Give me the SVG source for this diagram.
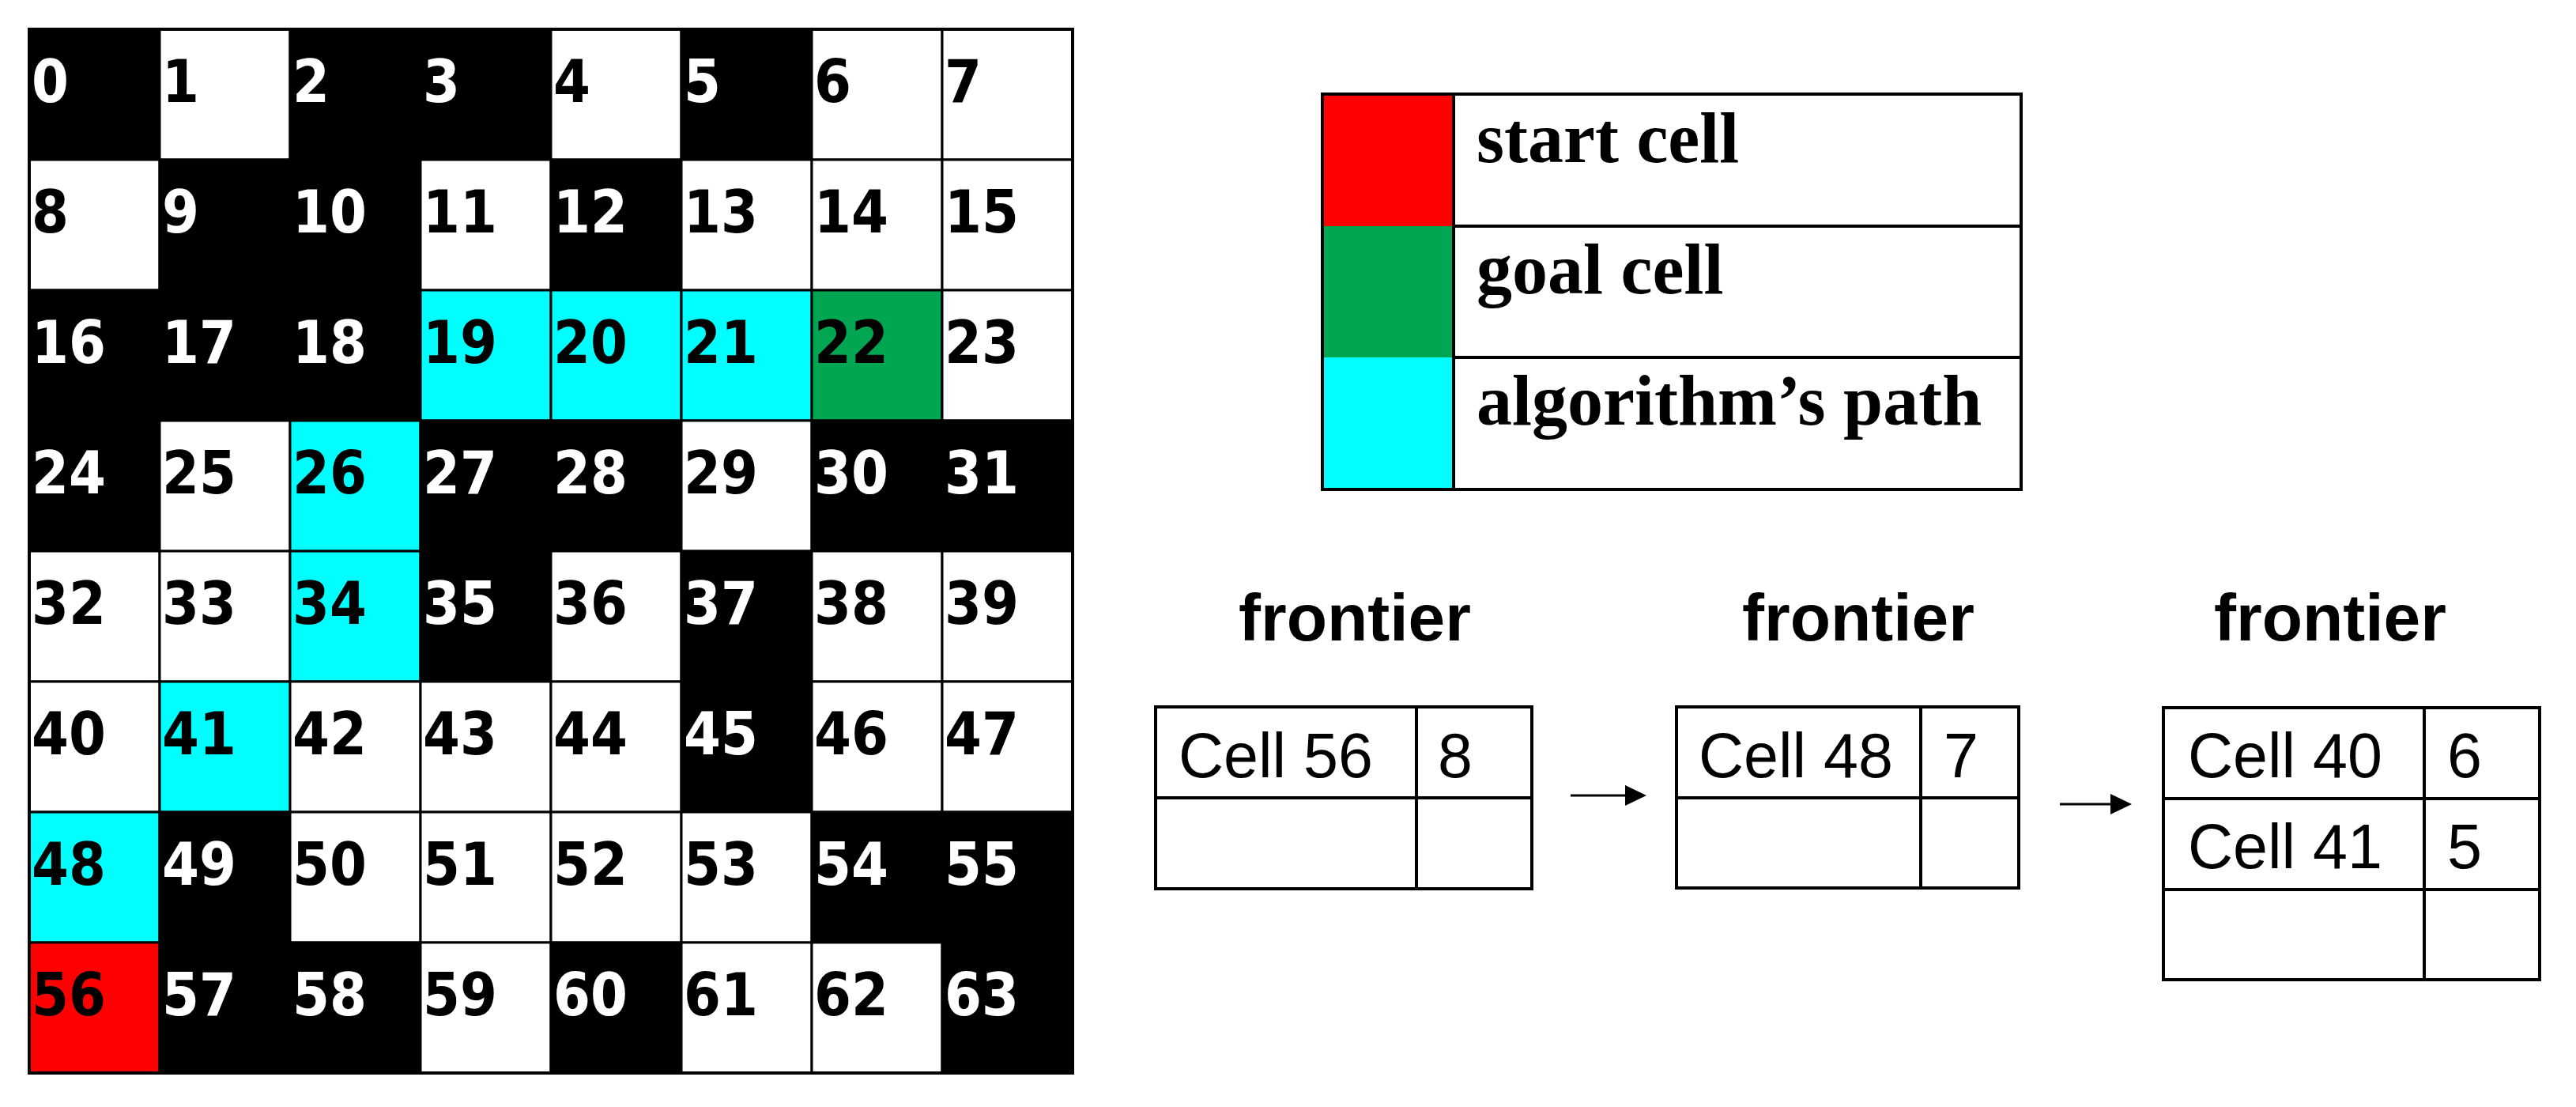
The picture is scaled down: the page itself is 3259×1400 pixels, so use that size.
<svg xmlns="http://www.w3.org/2000/svg" width="3259" height="1400" viewBox="0 0 3259 1400">
<defs>
<style>
.b{fill:#000000}.w{fill:#ffffff}.c{fill:#00ffff}.g{fill:#00a651}.r{fill:#ff0000}
.cell{stroke:#000;stroke-width:3}
.n{font-family:"DejaVu Sans Condensed","DejaVu Sans",sans-serif;font-weight:bold;font-size:75px}
.tw{fill:#fff}.tk{fill:#000}
.leg{font-family:"Liberation Serif","Times New Roman",serif;font-weight:bold;font-size:90px;fill:#000}
.ttl{font-family:"Liberation Sans",Arial,sans-serif;font-weight:bold;font-size:84px;fill:#000;text-anchor:middle}
.ft{font-family:"Liberation Sans",Arial,sans-serif;font-size:79px;fill:#000}
.box{fill:#fff;stroke:#000;stroke-width:4}
.ln{stroke:#000;stroke-width:4;fill:none}
.conn{stroke:#000;stroke-width:3;fill:none}
</style>
<marker id="ah" markerUnits="userSpaceOnUse" markerWidth="28" markerHeight="26" refX="0" refY="13" orient="auto">
<path d="M0,0 L27,13 L0,26 z" fill="#000"/>
</marker>
</defs>
<rect x="0" y="0" width="3259" height="1400" fill="#fff"/>
<g id="grid">
<g id="cell-0"><rect class="cell b" x="37" y="37" width="165" height="165"/><text class="n tw" x="40" y="129">0</text></g>
<g id="cell-1"><rect class="cell w" x="202" y="37" width="165" height="165"/><text class="n tk" x="205" y="129">1</text></g>
<g id="cell-2"><rect class="cell b" x="367" y="37" width="165" height="165"/><text class="n tw" x="370" y="129">2</text></g>
<g id="cell-3"><rect class="cell b" x="532" y="37" width="165" height="165"/><text class="n tw" x="535" y="129">3</text></g>
<g id="cell-4"><rect class="cell w" x="697" y="37" width="165" height="165"/><text class="n tk" x="700" y="129">4</text></g>
<g id="cell-5"><rect class="cell b" x="862" y="37" width="165" height="165"/><text class="n tw" x="865" y="129">5</text></g>
<g id="cell-6"><rect class="cell w" x="1027" y="37" width="165" height="165"/><text class="n tk" x="1030" y="129">6</text></g>
<g id="cell-7"><rect class="cell w" x="1192" y="37" width="165" height="165"/><text class="n tk" x="1195" y="129">7</text></g>
<g id="cell-8"><rect class="cell w" x="37" y="202" width="165" height="165"/><text class="n tk" x="40" y="294">8</text></g>
<g id="cell-9"><rect class="cell b" x="202" y="202" width="165" height="165"/><text class="n tw" x="205" y="294">9</text></g>
<g id="cell-10"><rect class="cell b" x="367" y="202" width="165" height="165"/><text class="n tw" x="370" y="294">10</text></g>
<g id="cell-11"><rect class="cell w" x="532" y="202" width="165" height="165"/><text class="n tk" x="535" y="294">11</text></g>
<g id="cell-12"><rect class="cell b" x="697" y="202" width="165" height="165"/><text class="n tw" x="700" y="294">12</text></g>
<g id="cell-13"><rect class="cell w" x="862" y="202" width="165" height="165"/><text class="n tk" x="865" y="294">13</text></g>
<g id="cell-14"><rect class="cell w" x="1027" y="202" width="165" height="165"/><text class="n tk" x="1030" y="294">14</text></g>
<g id="cell-15"><rect class="cell w" x="1192" y="202" width="165" height="165"/><text class="n tk" x="1195" y="294">15</text></g>
<g id="cell-16"><rect class="cell b" x="37" y="367" width="165" height="165"/><text class="n tw" x="40" y="459">16</text></g>
<g id="cell-17"><rect class="cell b" x="202" y="367" width="165" height="165"/><text class="n tw" x="205" y="459">17</text></g>
<g id="cell-18"><rect class="cell b" x="367" y="367" width="165" height="165"/><text class="n tw" x="370" y="459">18</text></g>
<g id="cell-19"><rect class="cell c" x="532" y="367" width="165" height="165"/><text class="n tk" x="535" y="459">19</text></g>
<g id="cell-20"><rect class="cell c" x="697" y="367" width="165" height="165"/><text class="n tk" x="700" y="459">20</text></g>
<g id="cell-21"><rect class="cell c" x="862" y="367" width="165" height="165"/><text class="n tk" x="865" y="459">21</text></g>
<g id="cell-22"><rect class="cell g" x="1027" y="367" width="165" height="165"/><text class="n tk" x="1030" y="459">22</text></g>
<g id="cell-23"><rect class="cell w" x="1192" y="367" width="165" height="165"/><text class="n tk" x="1195" y="459">23</text></g>
<g id="cell-24"><rect class="cell b" x="37" y="532" width="165" height="165"/><text class="n tw" x="40" y="624">24</text></g>
<g id="cell-25"><rect class="cell w" x="202" y="532" width="165" height="165"/><text class="n tk" x="205" y="624">25</text></g>
<g id="cell-26"><rect class="cell c" x="367" y="532" width="165" height="165"/><text class="n tk" x="370" y="624">26</text></g>
<g id="cell-27"><rect class="cell b" x="532" y="532" width="165" height="165"/><text class="n tw" x="535" y="624">27</text></g>
<g id="cell-28"><rect class="cell b" x="697" y="532" width="165" height="165"/><text class="n tw" x="700" y="624">28</text></g>
<g id="cell-29"><rect class="cell w" x="862" y="532" width="165" height="165"/><text class="n tk" x="865" y="624">29</text></g>
<g id="cell-30"><rect class="cell b" x="1027" y="532" width="165" height="165"/><text class="n tw" x="1030" y="624">30</text></g>
<g id="cell-31"><rect class="cell b" x="1192" y="532" width="165" height="165"/><text class="n tw" x="1195" y="624">31</text></g>
<g id="cell-32"><rect class="cell w" x="37" y="697" width="165" height="165"/><text class="n tk" x="40" y="789">32</text></g>
<g id="cell-33"><rect class="cell w" x="202" y="697" width="165" height="165"/><text class="n tk" x="205" y="789">33</text></g>
<g id="cell-34"><rect class="cell c" x="367" y="697" width="165" height="165"/><text class="n tk" x="370" y="789">34</text></g>
<g id="cell-35"><rect class="cell b" x="532" y="697" width="165" height="165"/><text class="n tw" x="535" y="789">35</text></g>
<g id="cell-36"><rect class="cell w" x="697" y="697" width="165" height="165"/><text class="n tk" x="700" y="789">36</text></g>
<g id="cell-37"><rect class="cell b" x="862" y="697" width="165" height="165"/><text class="n tw" x="865" y="789">37</text></g>
<g id="cell-38"><rect class="cell w" x="1027" y="697" width="165" height="165"/><text class="n tk" x="1030" y="789">38</text></g>
<g id="cell-39"><rect class="cell w" x="1192" y="697" width="165" height="165"/><text class="n tk" x="1195" y="789">39</text></g>
<g id="cell-40"><rect class="cell w" x="37" y="862" width="165" height="165"/><text class="n tk" x="40" y="954">40</text></g>
<g id="cell-41"><rect class="cell c" x="202" y="862" width="165" height="165"/><text class="n tk" x="205" y="954">41</text></g>
<g id="cell-42"><rect class="cell w" x="367" y="862" width="165" height="165"/><text class="n tk" x="370" y="954">42</text></g>
<g id="cell-43"><rect class="cell w" x="532" y="862" width="165" height="165"/><text class="n tk" x="535" y="954">43</text></g>
<g id="cell-44"><rect class="cell w" x="697" y="862" width="165" height="165"/><text class="n tk" x="700" y="954">44</text></g>
<g id="cell-45"><rect class="cell b" x="862" y="862" width="165" height="165"/><text class="n tw" x="865" y="954">45</text></g>
<g id="cell-46"><rect class="cell w" x="1027" y="862" width="165" height="165"/><text class="n tk" x="1030" y="954">46</text></g>
<g id="cell-47"><rect class="cell w" x="1192" y="862" width="165" height="165"/><text class="n tk" x="1195" y="954">47</text></g>
<g id="cell-48"><rect class="cell c" x="37" y="1027" width="165" height="165"/><text class="n tk" x="40" y="1119">48</text></g>
<g id="cell-49"><rect class="cell b" x="202" y="1027" width="165" height="165"/><text class="n tw" x="205" y="1119">49</text></g>
<g id="cell-50"><rect class="cell w" x="367" y="1027" width="165" height="165"/><text class="n tk" x="370" y="1119">50</text></g>
<g id="cell-51"><rect class="cell w" x="532" y="1027" width="165" height="165"/><text class="n tk" x="535" y="1119">51</text></g>
<g id="cell-52"><rect class="cell w" x="697" y="1027" width="165" height="165"/><text class="n tk" x="700" y="1119">52</text></g>
<g id="cell-53"><rect class="cell w" x="862" y="1027" width="165" height="165"/><text class="n tk" x="865" y="1119">53</text></g>
<g id="cell-54"><rect class="cell b" x="1027" y="1027" width="165" height="165"/><text class="n tw" x="1030" y="1119">54</text></g>
<g id="cell-55"><rect class="cell b" x="1192" y="1027" width="165" height="165"/><text class="n tw" x="1195" y="1119">55</text></g>
<g id="cell-56"><rect class="cell r" x="37" y="1192" width="165" height="165"/><text class="n tk" x="40" y="1284">56</text></g>
<g id="cell-57"><rect class="cell b" x="202" y="1192" width="165" height="165"/><text class="n tw" x="205" y="1284">57</text></g>
<g id="cell-58"><rect class="cell b" x="367" y="1192" width="165" height="165"/><text class="n tw" x="370" y="1284">58</text></g>
<g id="cell-59"><rect class="cell w" x="532" y="1192" width="165" height="165"/><text class="n tk" x="535" y="1284">59</text></g>
<g id="cell-60"><rect class="cell b" x="697" y="1192" width="165" height="165"/><text class="n tw" x="700" y="1284">60</text></g>
<g id="cell-61"><rect class="cell w" x="862" y="1192" width="165" height="165"/><text class="n tk" x="865" y="1284">61</text></g>
<g id="cell-62"><rect class="cell w" x="1027" y="1192" width="165" height="165"/><text class="n tk" x="1030" y="1284">62</text></g>
<g id="cell-63"><rect class="cell b" x="1192" y="1192" width="165" height="165"/><text class="n tw" x="1195" y="1284">63</text></g>
<rect x="37" y="37" width="1320" height="1320" class="ln"/>
</g>
<g id="legend">
<g id="legend-start"><rect class="r" x="1673" y="119" width="166" height="167"/><rect x="1839" y="119" width="718" height="167" class="box"/><text class="leg" x="1868" y="205">start cell</text></g>
<g id="legend-goal"><rect class="g" x="1673" y="286" width="166" height="166"/><rect x="1839" y="286" width="718" height="166" class="box"/><text class="leg" x="1868" y="371">goal cell</text></g>
<g id="legend-path"><rect class="c" x="1673" y="452" width="166" height="167"/><rect x="1839" y="452" width="718" height="167" class="box"/><text class="leg" x="1868" y="537">algorithm’s path</text></g>
<rect x="1673" y="119" width="884" height="500" class="ln"/>
<line x1="1839" y1="119" x2="1839" y2="619" class="ln"/>
</g>
<g id="frontier-1">
<text class="ttl" x="1714" y="810">frontier</text>
<rect x="1462" y="894" width="476" height="230" class="box"/>
<line x1="1792" y1="894" x2="1792" y2="1124" class="ln"/>
<line x1="1462" y1="1009" x2="1938" y2="1009" class="ln"/>
<text class="ft" x="1491" y="983">Cell 56</text>
<text class="ft" x="1819" y="983">8</text>
</g>
<g id="frontier-2">
<text class="ttl" x="2351" y="810">frontier</text>
<rect x="2121" y="894" width="433" height="229" class="box"/>
<line x1="2430" y1="894" x2="2430" y2="1123" class="ln"/>
<line x1="2121" y1="1009" x2="2554" y2="1009" class="ln"/>
<text class="ft" x="2149" y="983">Cell 48</text>
<text class="ft" x="2459" y="983">7</text>
</g>
<g id="frontier-3">
<text class="ttl" x="2948" y="810">frontier</text>
<rect x="2737" y="895" width="476" height="344" class="box"/>
<line x1="3067" y1="895" x2="3067" y2="1239" class="ln"/>
<line x1="2737" y1="1010" x2="3213" y2="1010" class="ln"/>
<line x1="2737" y1="1125" x2="3213" y2="1125" class="ln"/>
<text class="ft" x="2768" y="983">Cell 40</text>
<text class="ft" x="3096" y="983">6</text>
<text class="ft" x="2768" y="1098">Cell 41</text>
<text class="ft" x="3096" y="1098">5</text>
</g>
<g id="connectors">
<line x1="1987" y1="1006" x2="2056" y2="1006" class="conn" marker-end="url(#ah)"/>
<line x1="2606" y1="1017" x2="2670" y2="1017" class="conn" marker-end="url(#ah)"/>
</g>
</svg>
